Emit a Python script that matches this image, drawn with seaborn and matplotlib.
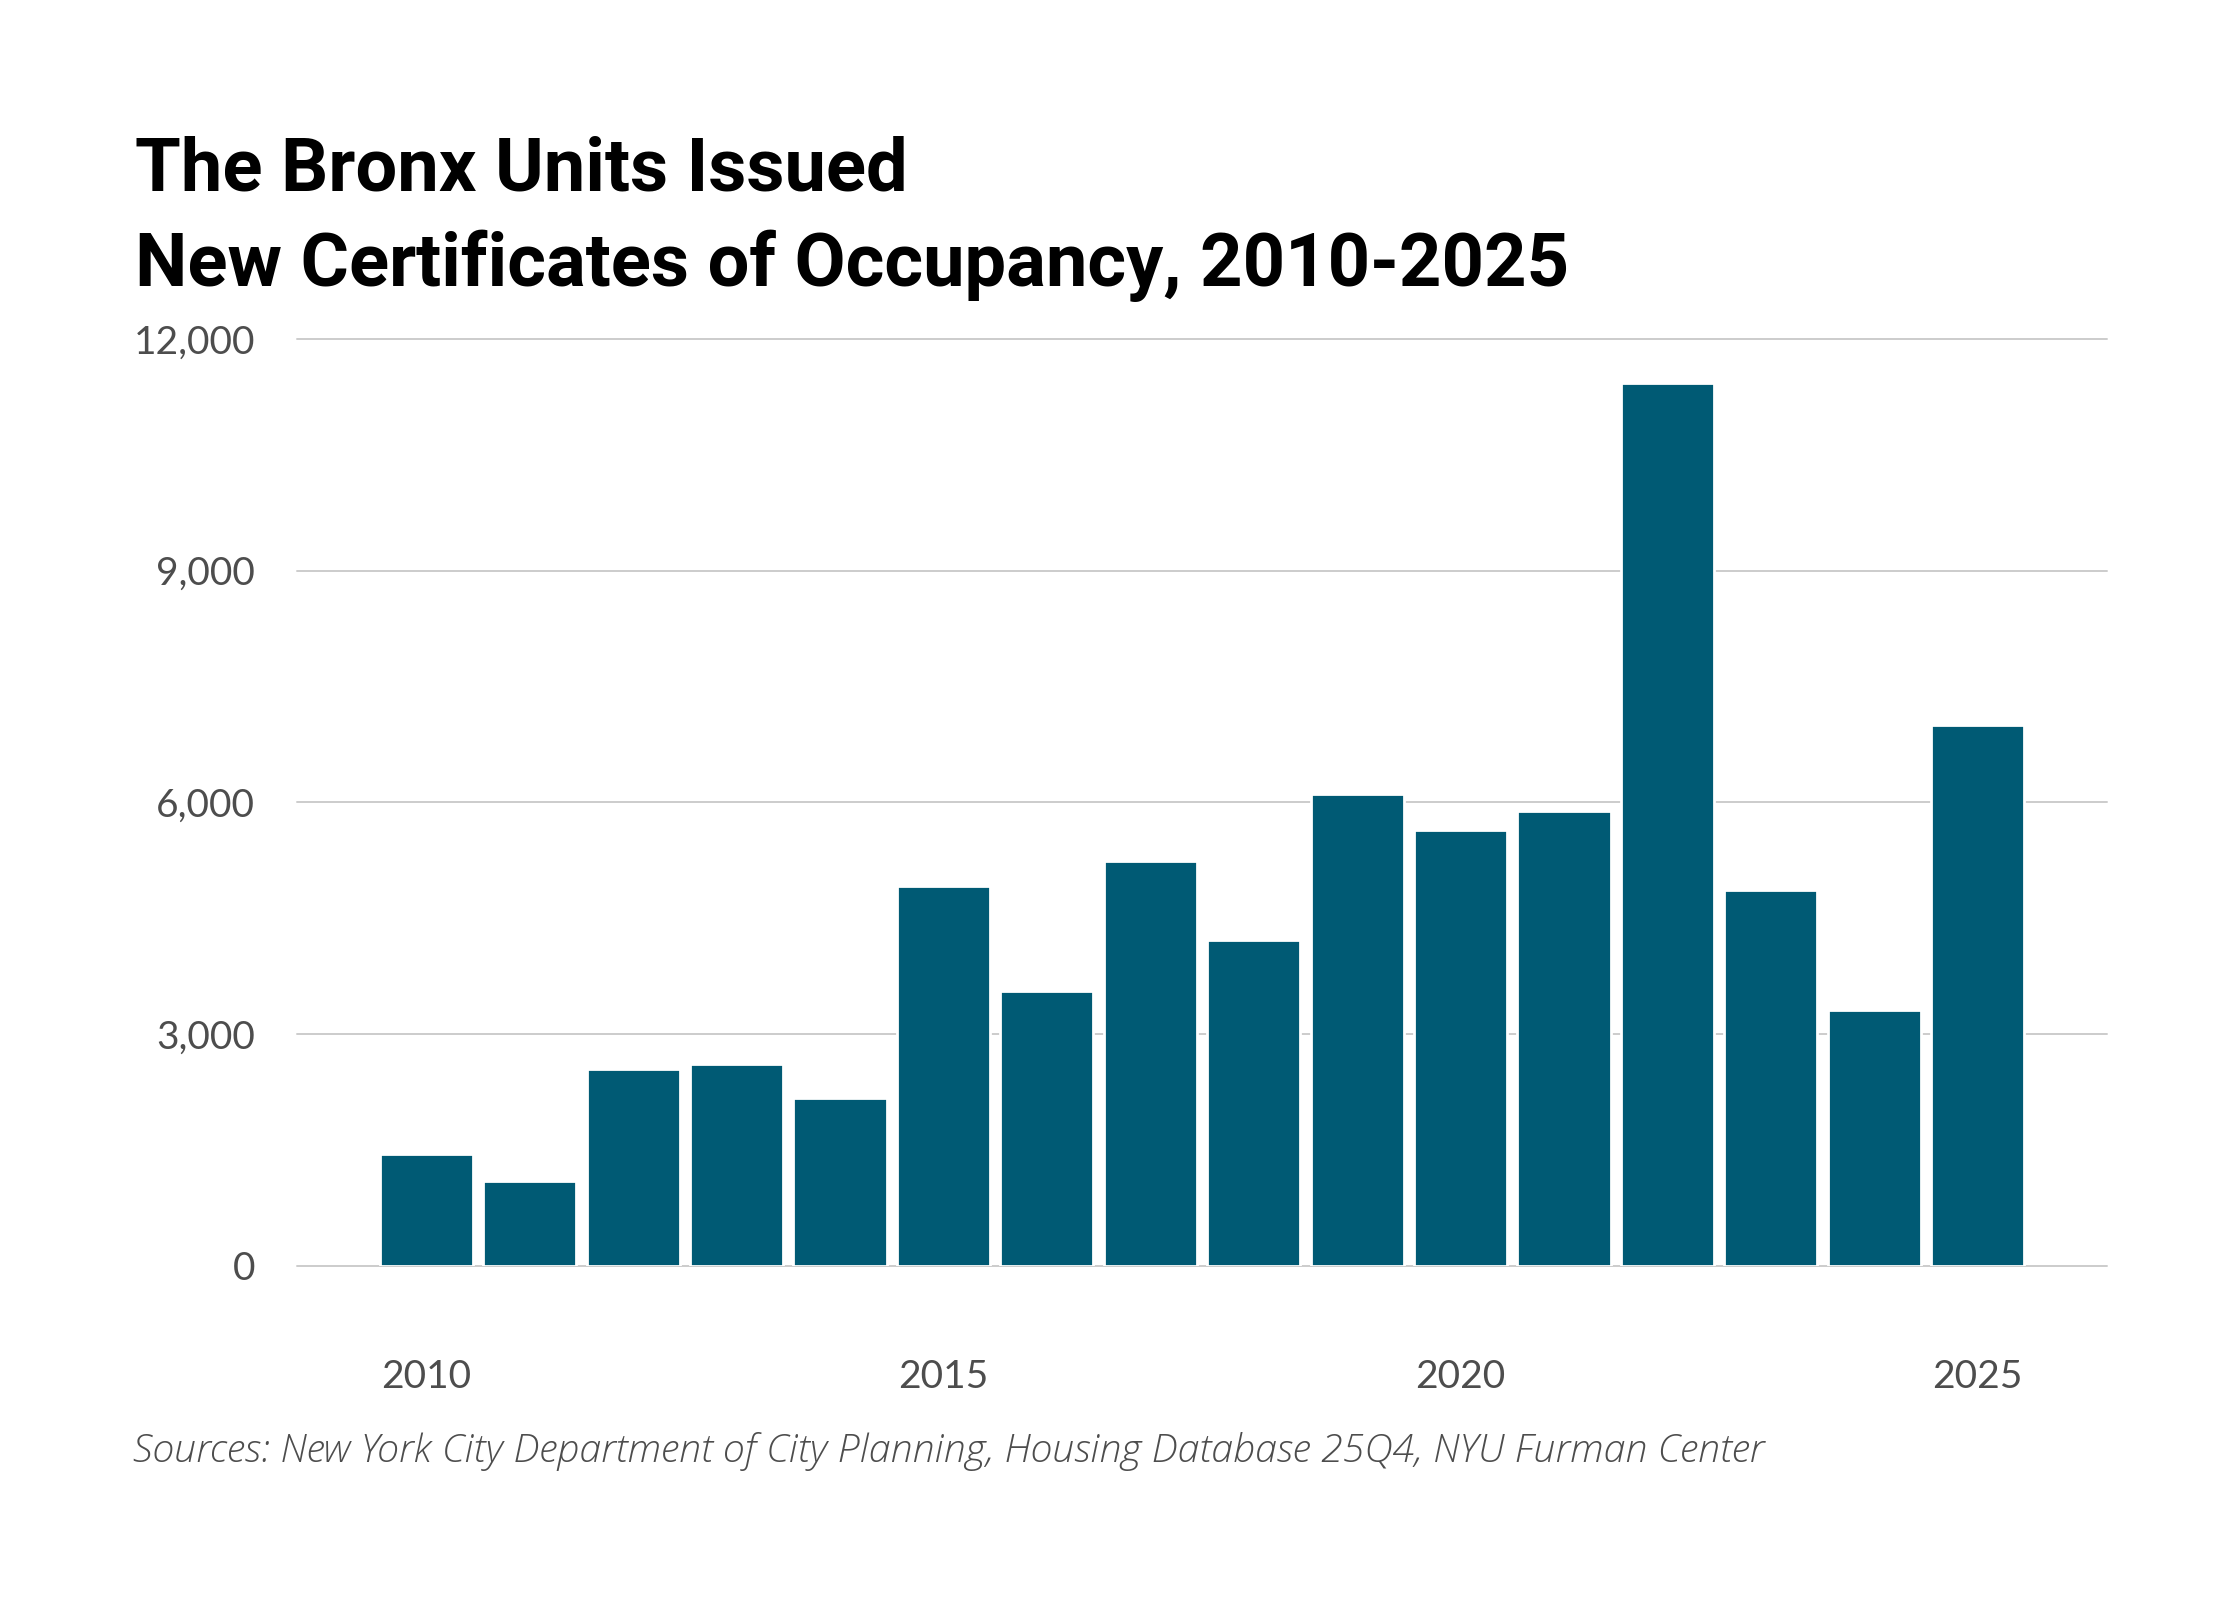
import matplotlib

matplotlib.use("Agg")
import matplotlib.pyplot as plt
import pandas as pd
import seaborn as sns

YEARS = [str(y) for y in range(2010, 2026)]
UNITS = [1450, 1096, 2555, 2621, 2176, 4920, 3560, 5241,
         4219, 6106, 5645, 5884, 11430, 4862, 3313, 6997]
Y_TICKS = [0, 3000, 6000, 9000, 12000]
X_LABELED = ["2010", "2015", "2020", "2025"]

TITLE = "The Bronx Units Issued\nNew Certificates of Occupancy, 2010-2025"
SOURCE = "Sources: New York City Department of City Planning, Housing Database 25Q4, NYU Furman Center"

BAR_COLOR = "#005a74"
TEXT_GRAY = "#4d4d4d"


def main() -> None:
    sns.set_theme(style="white")
    plt.rcParams["font.family"] = ["Lato", "DejaVu Sans"]

    df = pd.DataFrame({"year": YEARS, "units": UNITS})

    fig = plt.figure(figsize=(11.2, 8), dpi=200)
    ax = fig.add_axes([0.1326, 0.20875, 0.808, 0.5794])

    sns.barplot(
        data=df,
        x="year",
        y="units",
        color=BAR_COLOR,
        saturation=1,
        width=0.9,
        ax=ax,
        zorder=3,
    )

    ax.set_xlim(-1.25, len(YEARS) - 1 + 1.25)
    ax.set_ylim(0, 12000)
    ax.set_yticks(Y_TICKS)
    ax.set_yticklabels([f"{v:,}" for v in Y_TICKS])
    ax.yaxis.grid(True, color="#cccccc", linewidth=0.7, zorder=0)
    ax.xaxis.grid(False)
    for gl in ax.get_ygridlines():
        gl.set_clip_on(False)

    pos = [YEARS.index(y) for y in X_LABELED]
    ax.set_xticks(pos)
    ax.set_xticklabels(X_LABELED)

    ax.tick_params(axis="y", length=0, pad=15, labelsize=14, labelcolor=TEXT_GRAY)
    ax.tick_params(axis="x", length=0, pad=33.5, labelsize=14, labelcolor=TEXT_GRAY)
    ax.set_xlabel("")
    ax.set_ylabel("")
    sns.despine(ax=ax, left=True, bottom=True)

    fig.text(
        0.0603,
        0.821,
        TITLE,
        fontsize=26.7,
        fontweight="bold",
        family=["Roboto", "DejaVu Sans"],
        color="black",
        ha="left",
        va="baseline",
        linespacing=1.44,
    )
    fig.text(
        0.0594,
        0.0865,
        SOURCE,
        fontsize=14.2,
        fontstyle="italic",
        fontweight="light",
        family=["Open Sans", "DejaVu Sans"],
        color=TEXT_GRAY,
        ha="left",
        va="baseline",
    )

    fig.savefig("out.png", dpi=200)
    plt.close(fig)


if __name__ == "__main__":
    main()
